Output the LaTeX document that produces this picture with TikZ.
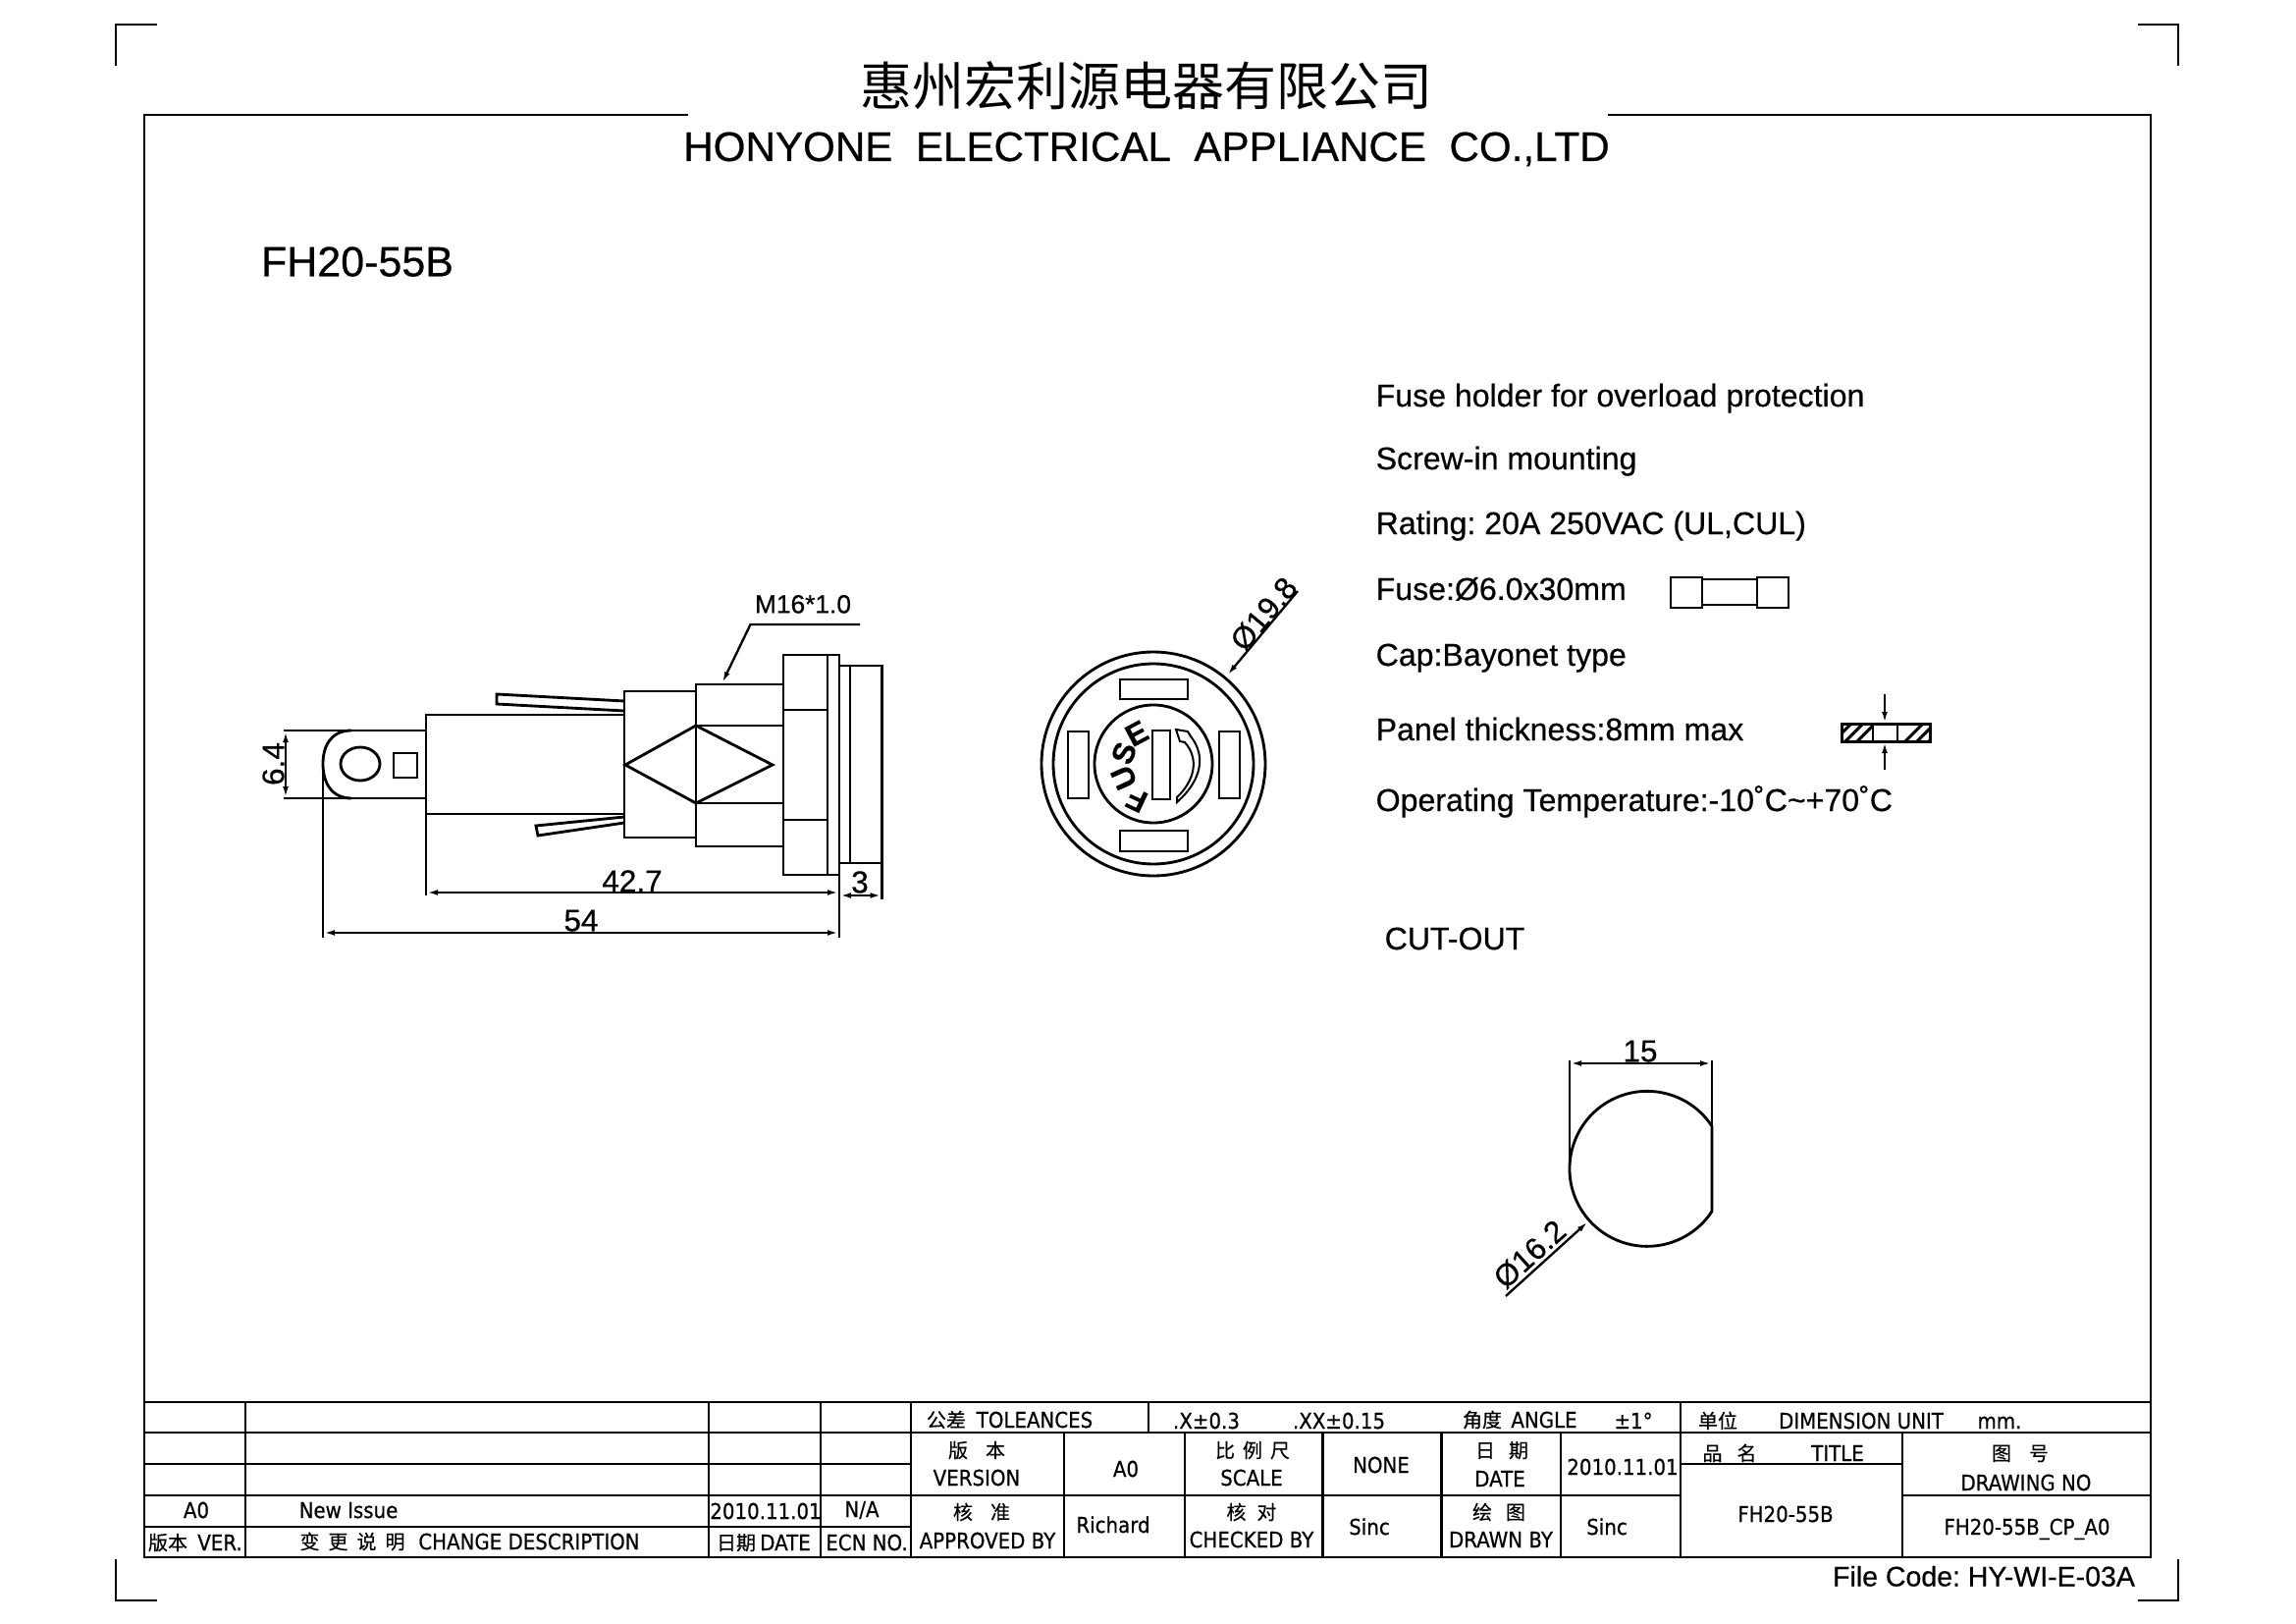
\documentclass[tikz,border=0pt]{standalone}
\usepackage{fontspec}
\usetikzlibrary{arrows.meta}
\setmainfont[FakeBold=.5]{Liberation Sans}
\newfontfamily\cjk[FakeBold=.3]{Noto Sans CJK SC}
\newfontfamily\cjktitle{Noto Sans CJK SC}
\newfontfamily\tbfont[FakeStretch=.9,FakeBold=.5]{DejaVu Sans}
\frenchspacing
\tikzset{
  frameline/.style={line width=.85pt},
  partline/.style={line width=.85pt},
  thinline/.style={line width=.6pt},
  dimline/.style={line width=.7pt,{Latex[length=3.6pt,width=1.7pt]}-{Latex[length=3.6pt,width=1.7pt]}},
  leaderline/.style={line width=.7pt,-{Latex[length=3.6pt,width=1.7pt]}},
  dimtext/.style={inner sep=0pt,text height=6.77pt,text depth=0pt,font=\fontsize{9.45pt}{10pt}\selectfont},
  spectext/.style={inner sep=0pt,anchor=base west,font=\fontsize{9.63pt}{11pt}\selectfont},
  celltext/.style={inner sep=0pt,text height=4.8pt,text depth=0pt,font=\tbfont\fontsize{6.6pt}{7pt}\selectfont},
  cjktext/.style={inner sep=0pt,text height=5.28pt,text depth=.72pt,font=\cjk\fontsize{6pt}{7pt}\selectfont},
  fuseletter/.style={inner sep=0pt,font=\bfseries\fontsize{9.4pt}{10pt}\selectfont},
}
\begin{document}
\begin{tikzpicture}[x=.3pt,y=-.3pt]
  \useasboundingbox (0,0) rectangle (2339,1654);

  % sheet frame and corner marks
  \draw[frameline] (701,117) -- (147,117) -- (147,1586) -- (2191,1586) -- (2191,117) -- (1638,117);
  \draw[frameline] (160,25) -- (118,25) -- (118,67);
  \draw[frameline] (2178,25) -- (2219,25) -- (2219,67);
  \draw[frameline] (118,1588) -- (118,1630) -- (160,1630);
  \draw[frameline] (2219,1588) -- (2219,1630) -- (2178,1630);

  \node (titlecn) at (1168,87) [inner sep=0pt,font=\cjktitle\fontsize{15.9pt}{17pt}\selectfont] {惠州宏利源电器有限公司};
  \node (titleen) at (1168,149) [inner sep=0pt,text height=9pt,text depth=0pt,font=\fontsize{12.65pt}{14pt}\selectfont] {HONYONE\ \ ELECTRICAL\ \ APPLIANCE\ \ CO.,LTD};
  \node (partno) at (364,266) [inner sep=0pt,text height=9.24pt,text depth=0pt,font=\fontsize{12.9pt}{14pt}\selectfont] {FH20-55B};

  % side view
  \draw[partline] (289,744) -- (434,744);
  \draw[partline] (289,813) -- (434,813);
  \draw[partline] (358,744) .. controls (337,744) and (329,760) .. (329,778) .. controls (329,796) and (337,813) .. (358,813);
  \draw[partline] (329,778) -- (329,955);
  \draw[partline] (367,778) circle[x radius=20,y radius=17];
  \draw[partline] (401,767) rectangle (425,792);
  \draw[partline] (434,912) -- (434,728) -- (636,728);
  \draw[partline] (434,829) -- (636,829);
  \draw[partline] (636,714) -- (506,707) -- (506,717) -- (636,724);
  \draw[partline] (636,832) -- (546,841) -- (548,851) -- (636,838);
  \draw[partline] (636,704) rectangle (709,853);
  \draw[partline] (709,697) rectangle (798,862);
  \draw[partline] (709,739) -- (798,739);
  \draw[partline] (709,818) -- (798,818);
  \draw[partline] (637,779) -- (709,739) -- (787,779) -- (709,818) -- cycle;
  \draw[partline] (798,667) rectangle (855,891);
  \draw[partline] (843,667) -- (843,891);
  \draw[partline] (798,723) -- (843,723);
  \draw[partline] (798,835) -- (843,835);
  \draw[partline] (855,678) -- (898.5,678) -- (898.5,916);
  \draw[partline] (855,879) -- (898.5,879);
  \draw[partline] (866,678) -- (866,879);
  \draw[partline] (855,891) -- (855,955);

  \coordinate (tabtop) at (291,744);
  \coordinate (tabbot) at (291,813);
  \draw[dimline] (tabtop) -- (tabbot);
  \node[dimtext,rotate=90] (dimtab) at (278,778) {6.4};
  \coordinate (bodyleft) at (434,909);
  \coordinate (bodyright) at (855,909);
  \draw[dimline] (bodyleft) -- (bodyright);
  \node[dimtext] (dimbody) at (644,897) {42.7};
  \coordinate (allleft) at (329,950);
  \coordinate (allright) at (855,950);
  \draw[dimline] (allleft) -- (allright);
  \node[dimtext] (dimall) at (592,937) {54};
  \coordinate (frontleft) at (855,912);
  \coordinate (frontright) at (898.5,912);
  \draw[dimline] (frontleft) -- (frontright);
  \node[dimtext] (dimfront) at (876,898) {3};
  \coordinate (threadend) at (876,636);
  \coordinate (threadknee) at (764.5,636);
  \coordinate (threadtip) at (735.5,696);
  \draw[leaderline] (threadend) -- (threadknee) -- (threadtip);
  \node[dimtext,text height=5.66pt,font=\fontsize{7.9pt}{9pt}\selectfont] (thread) at (818,615) {M16*1.0};

  % front view
  \draw[partline] (1175,778) circle[radius=114];
  \draw[partline] (1175,778) circle[radius=102];
  \draw[partline] (1175,778) circle[radius=60];
  \draw[partline] (1141,692) rectangle (1210,712);
  \draw[partline] (1141,846) rectangle (1210,867);
  \draw[partline] (1088,745) rectangle (1109,813);
  \draw[partline] (1242,745) rectangle (1263,813);
  \draw[partline] (1174,744) rectangle (1192,814);
  \draw[thinline] (1198,743) -- (1210,745) -- (1213,750) .. controls (1229,770) and (1224,795) .. (1199,817) -- (1199,812) .. controls (1217,795) and (1222,773) .. (1207,756) -- (1202,755) -- cycle;
  \node[fuseletter,rotate=155] (letterf) at (1158,815) {F};
  \node[fuseletter,rotate=114] (letteru) at (1145,792) {U};
  \node[fuseletter,rotate=69] (letters) at (1145,767) {S};
  \node[fuseletter,rotate=28] (lettere) at (1158,747) {E};
  \coordinate (outerend) at (1322,602);
  \coordinate (outertip) at (1250,688);
  \draw[leaderline] (outerend) -- (outertip);
  \node[dimtext,rotate=50] (dimouter) at (1287,625) {Ø19.8};

  % specification text
  \node[spectext] (spec1) at (1401,414) {Fuse holder for overload protection};
  \node[spectext] (spec2) at (1401,478) {Screw-in mounting};
  \node[spectext] (spec3) at (1401,544) {Rating: 20A 250VAC (UL,CUL)};
  \node[spectext] (spec4) at (1401,611) {Fuse:Ø6.0x30mm};
  \node[spectext] (spec5) at (1401,678) {Cap:Bayonet type};
  \node[spectext] (spec6) at (1401,754) {Panel thickness:8mm max};
  \node[spectext] (spec7) at (1401,826) {Operating Temperature:-10˚C\textasciitilde+70˚C};
  \node[spectext] (cutout) at (1410,967) {CUT-OUT};

  % fuse and panel icons
  \draw[partline] (1702,588) rectangle (1734,619);
  \draw[partline] (1790,588) rectangle (1822,619);
  \draw[partline] (1734,590) rectangle (1790,616);
  \begin{scope}
    \clip (1876,737) rectangle (1966,755);
    \foreach \hx in {1868,1880,1892,1941,1953,1965}
      \draw[line width=.9pt] (\hx,755) -- (\hx+18,737);
  \end{scope}
  \draw[partline,fill=white] (1908,737) rectangle (1933,755);
  \draw[line width=.9pt] (1876,737) rectangle (1966,755);
  \coordinate (panelup) at (1920,707);
  \coordinate (paneltop) at (1920,737);
  \coordinate (paneldown) at (1920,784);
  \coordinate (panelbot) at (1920,755);
  \draw[leaderline] (panelup) -- (paneltop);
  \draw[leaderline] (paneldown) -- (panelbot);

  % cut-out
  \draw[partline] (1744,1147) arc[start angle=-33.3,end angle=-326.7,radius=79] -- cycle;
  \draw[partline] (1599,1080) -- (1599,1193);
  \draw[partline] (1744,1080) -- (1744,1147);
  \coordinate (cutleft) at (1599,1083);
  \coordinate (cutright) at (1744,1083);
  \draw[dimline] (cutleft) -- (cutright);
  \node[dimtext] (dimcut) at (1671,1070) {15};
  \coordinate (holeend) at (1534,1320);
  \coordinate (holetip) at (1618,1244);
  \draw[leaderline] (holeend) -- (holetip);
  \node[dimtext,rotate=42] (dimhole) at (1558,1277) {Ø16.2};

  % title block
  \draw[frameline] (147,1428) -- (2191,1428);
  \draw[frameline] (147,1459) -- (2191,1459);
  \draw[frameline] (147,1491) -- (928,1491);
  \draw[frameline] (147,1523) -- (1712,1523);
  \draw[frameline] (147,1555) -- (928,1555);
  \draw[frameline] (1712,1491) -- (1938,1491);
  \draw[frameline] (1938,1523) -- (2191,1523);
  \foreach \cx in {250,722,836,928,1712}
    \draw[frameline] (\cx,1428) -- (\cx,1586);
  \draw[frameline] (1170,1428) -- (1170,1459);
  \foreach \cx in {1084,1207,1347.5,1468.5,1590,1938}
    \draw[frameline] (\cx,1459) -- (\cx,1586);

  \foreach \cx/\cy/\ctext [count=\ci] in {
    200/1538/A0, 355/1538/New Issue, 780/1539/2010.11.01, 878/1537/{N/A},
    224/1571/VER., 539/1570/CHANGE DESCRIPTION, 800/1571/DATE, 883/1571/ECN NO.,
    1054/1446/TOLEANCES, 1229/1447/.X±0.3, 1364/1447/.XX±0.15,
    1573/1446/ANGLE, 1664/1447/±1°, 1896/1447/DIMENSION UNIT, 2037/1447/mm.,
    1872/1480/TITLE, 995/1505/VERSION, 1147/1496/A0, 1275/1505/SCALE, 1407/1492/NONE,
    1528/1506/DATE, 1653/1494/2010.11.01, 2064/1510/DRAWING NO,
    1006/1569/APPROVED BY, 1134/1553/Richard, 1275/1568/CHECKED BY, 1395/1555/Sinc,
    1529/1568/DRAWN BY, 1637/1555/Sinc, 1819/1542/FH20-55B, 2065/1555/FH20-55B\_CP\_A0}
    \node[celltext] (cell\ci) at (\cx,\cy) {\ctext};

  \foreach \cx/\cy/\ctext [count=\ci] in {
    171/1571/版本, 359/1570/变\hspace{.45em}更\hspace{.45em}说\hspace{.45em}明, 750/1571/日期, 964/1446/公差,
    1510/1446/角度, 1750/1447/单位, 1762/1480/品\hspace{.75em}名, 2058/1480/图\hspace{.9em}号,
    995/1477/版\hspace{.9em}本, 1276/1477/比\hspace{.4em}例\hspace{.4em}尺, 1530/1477/日\hspace{.7em}期,
    1000/1540/核\hspace{.9em}准, 1275/1540/核\hspace{.55em}对, 1527/1540/绘\hspace{.7em}图}
    \node[cjktext] (cjk\ci) at (\cx,\cy) {\ctext};

  \node (filecode) at (2021,1605) [inner sep=0pt,text height=6.3pt,text depth=0pt,font=\fontsize{8.55pt}{10pt}\selectfont] {File Code: HY-WI-E-03A};
\end{tikzpicture}
\end{document}
